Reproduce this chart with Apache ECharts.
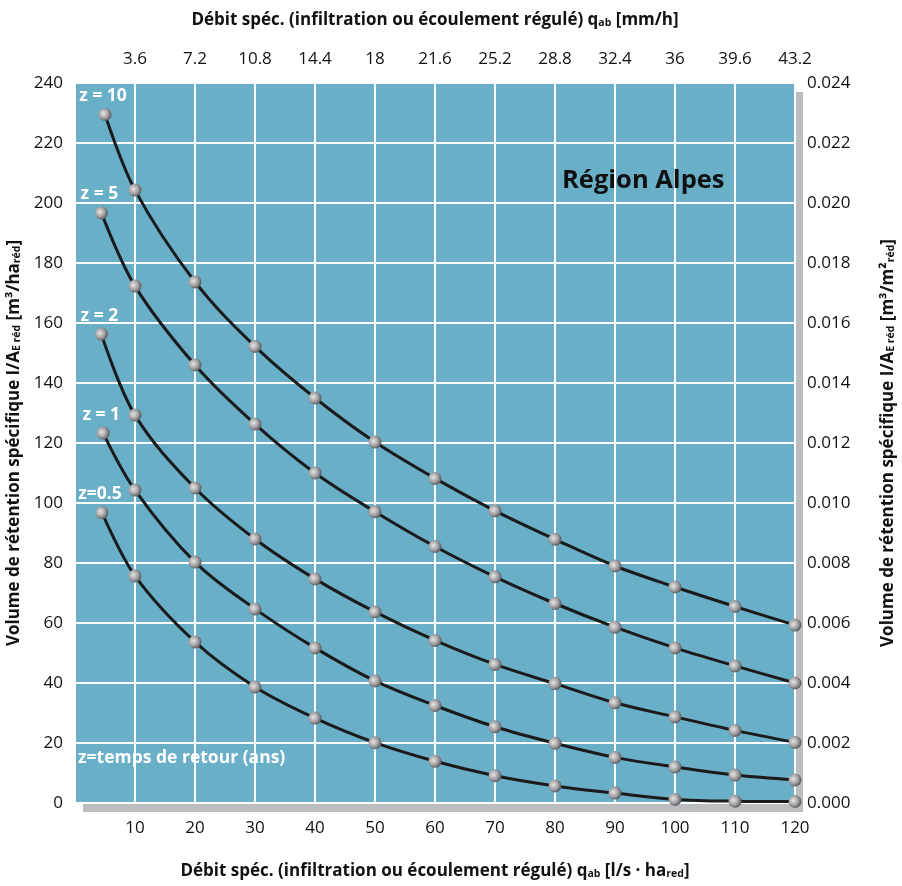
<!DOCTYPE html>
<html>
<head>
<meta charset="utf-8">
<script src="https://cdn.jsdelivr.net/npm/echarts@6/dist/echarts.min.js"></script>
<style>
html,body{margin:0;padding:0;background:#fff;}
#chart{width:902px;height:886px;}
</style>
</head>
<body>
<div id="chart"></div>
<script>
// ---- data ----
const xPoints = [10, 20, 30, 40, 50, 60, 70, 80, 90, 100, 110, 120];
const seriesNames = ['z = 10', 'z = 5', 'z = 2', 'z = 1', 'z=0.5'];
const startX = [5.0, 4.4, 4.4, 4.7, 4.5];
const z10 = [229.5, 204.3, 173.7, 152.2, 135.0, 120.3, 108.2, 97.4, 87.9, 79.0, 72.0, 65.5, 59.3];
const z5  = [196.7, 172.3, 146.0, 126.3, 110.0, 97.1, 85.5, 75.4, 66.5, 58.6, 51.7, 45.7, 40.0];
const z2  = [156.3, 129.3, 105.0, 88.0, 74.7, 63.7, 54.2, 46.2, 39.8, 33.4, 28.7, 24.2, 20.2];
const z1  = [123.3, 104.3, 80.3, 64.7, 51.7, 40.7, 32.5, 25.4, 19.9, 15.2, 12.0, 9.3, 7.7];
const z05 = [96.8, 75.7, 53.7, 38.7, 28.3, 20.1, 13.9, 9.1, 5.7, 3.3, 1.2, 0.6, 0.5];
const topTickLabels = ['3.6', '7.2', '10.8', '14.4', '18', '21.6', '25.2', '28.8', '32.4', '36', '39.6', '43.2'];
const rightTickLabels = ['0.000', '0.002', '0.004', '0.006', '0.008', '0.010', '0.012', '0.014', '0.016', '0.018', '0.020', '0.022', '0.024'];

const allSeries = [z10, z5, z2, z1, z05];

const FONT = "'Open Sans', sans-serif";
const subStyle = { fontSize: 10.5, fontWeight: 'bold', fontFamily: FONT, color: '#111', verticalAlign: 'bottom', lineHeight: 12 };

const markerColor = {
  type: 'radial', x: 0.38, y: 0.42, r: 0.65,
  colorStops: [
    { offset: 0, color: '#e6e6e6' },
    { offset: 0.55, color: '#a2a2a5' },
    { offset: 1, color: '#4f5054' }
  ]
};

const series = allSeries.map(function (vals, si) {
  const xs = [startX[si]].concat(xPoints);
  const data = vals.map(function (v, i) {
    const item = { value: [xs[i], v] };
    if (i === 0) {
      item.label = {
        show: true, formatter: seriesNames[si], position: 'top', distance: 3,
        color: '#fff', fontSize: 17.5, fontWeight: 'bold', fontFamily: FONT, offset: [-2, 0]
      };
    }
    return item;
  });
  return {
    type: 'line', data: data, smooth: 0.35,
    symbol: 'circle', symbolSize: 13,
    lineStyle: { color: '#1b1b1b', width: 3 },
    itemStyle: { color: markerColor, borderWidth: 0 },
    z: 3
  };
});

const chart = echarts.init(document.getElementById('chart'), null, { renderer: 'canvas' });
chart.setOption({
  animation: false,
  textStyle: { fontFamily: FONT },
  grid: {
    left: 75, top: 83, width: 720, height: 720, show: true,
    containLabel: false, outerBoundsMode: 'none',
    backgroundColor: '#6aafc8', borderWidth: 0,
    shadowColor: '#bcbdbf', shadowOffsetX: 8, shadowOffsetY: 9, shadowBlur: 0
  },
  xAxis: [
    {
      type: 'value', position: 'bottom', min: 0, max: 120, interval: 10,
      axisLine: { show: false }, axisTick: { show: false },
      splitLine: { show: true, lineStyle: { color: '#ffffff', width: 2 } },
      axisLabel: { showMinLabel: false, margin: 17, fontSize: 17, color: '#111', fontFamily: FONT },
      name: 'Débit spéc. (infiltration ou écoulement régulé) q{sub|ab} [l/s · ha{sub|red}]',
      nameLocation: 'middle', nameGap: 60,
      nameTextStyle: { fontSize: 17, fontWeight: 'bold', color: '#111', fontFamily: FONT, rich: { sub: subStyle } }
    },
    {
      type: 'value', position: 'top', min: 0, max: 120, interval: 10,
      axisLine: { show: false }, axisTick: { show: false }, splitLine: { show: false },
      axisLabel: {
        showMinLabel: false, margin: 15, fontSize: 17, color: '#111', fontFamily: FONT,
        formatter: function (v) { return v === 0 ? '' : topTickLabels[Math.round(v / 10) - 1]; }
      },
      name: 'Débit spéc. (infiltration ou écoulement régulé) q{sub|ab} [mm/h]',
      nameLocation: 'middle', nameGap: 54,
      nameTextStyle: { fontSize: 17, fontWeight: 'bold', color: '#111', fontFamily: FONT, rich: { sub: subStyle } }
    }
  ],
  yAxis: [
    {
      type: 'value', position: 'left', min: 0, max: 240, interval: 20,
      axisLine: { show: false }, axisTick: { show: false },
      splitLine: { show: true, lineStyle: { color: '#ffffff', width: 2 } },
      axisLabel: { margin: 12, fontSize: 17, color: '#111', fontFamily: FONT },
      name: 'Volume de rétention spécifique I/A{sub|E réd} [m³/ha{sub|réd}]',
      nameLocation: 'middle', nameGap: 46, nameRotate: 90,
      nameTextStyle: { fontSize: 17, fontWeight: 'bold', color: '#111', fontFamily: FONT, rich: { sub: subStyle } }
    },
    {
      type: 'value', position: 'right', min: 0, max: 0.024, interval: 0.002,
      axisLine: { show: false }, axisTick: { show: false }, splitLine: { show: false },
      axisLabel: {
        margin: 12, fontSize: 17, color: '#111', fontFamily: FONT,
        formatter: function (v) { return rightTickLabels[Math.round(v / 0.002)]; }
      },
      name: 'Volume de rétention spécifique I/A{sub|E réd} [m³/m²{sub|réd}]',
      nameLocation: 'middle', nameGap: 85, nameRotate: 90,
      nameTextStyle: { fontSize: 17, fontWeight: 'bold', color: '#111', fontFamily: FONT, rich: { sub: subStyle } }
    }
  ],
  series: series,
  graphic: [
    {
      type: 'text', left: 562, top: 168, z: 10,
      style: { text: 'Région Alpes', fontSize: 25.5, fontWeight: 'bold', fill: '#111', fontFamily: FONT }
    },
    {
      type: 'text', left: 78, top: 749, z: 10,
      style: { text: 'z=temps de retour (ans)', fontSize: 17.5, fontWeight: 'bold', fill: '#fff', fontFamily: FONT }
    }
  ]
});
</script>
</body>
</html>
